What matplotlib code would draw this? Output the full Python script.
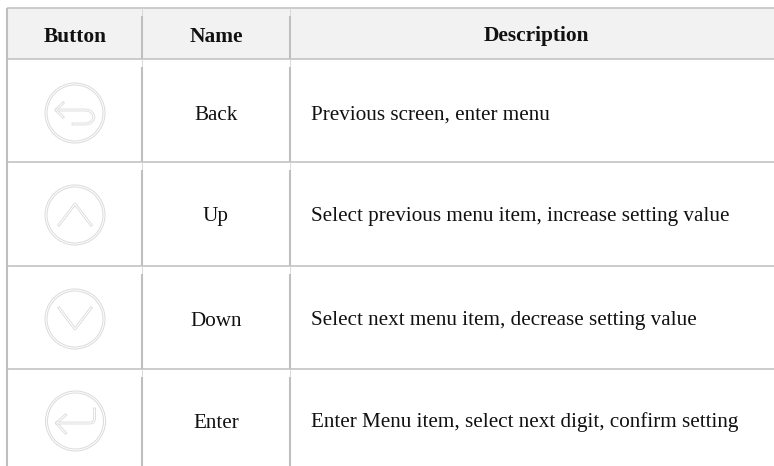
import numpy as np
import matplotlib
matplotlib.use('Agg')
import matplotlib.pyplot as plt
from matplotlib.patches import Circle, Rectangle

headers = ["Button", "Name", "Description"]
names = ["Back", "Up", "Down", "Enter"]
descriptions = [
    "Previous screen, enter menu",
    "Select previous menu item, increase setting value",
    "Select next menu item, decrease setting value",
    "Enter Menu item, select next digit, confirm setting",
]

# table layout, in pixels of the 774x466 picture
col_x = [7, 142, 290]
row_y = [8, 59, 162, 266, 369]
icon_centers = [(75, 113), (75, 215), (75, 319), (75.5, 421)]
head_x = [75, 216, 536]
head_base = 41.5
name_x = 216
desc_x = 311
grid_col = '#bfbfbf'
icon_col = '#dadada'
serif = 'Liberation Serif'

# icon glyphs as offsets from the circle centre
icon_paths = {
    "Back": [[(-12, -10), (-19, -3), (-12, 4)],
             [(-19, -3), (11, -3), (15, -2), (18, 1), (19, 4), (18, 7), (15, 10), (11, 11), (-2, 11)]],
    "Up": [[(-16, 10), (0, -11), (16, 10)]],
    "Down": [[(-16, -11), (0, 10), (16, -11)]],
    "Enter": [[(-10, -6), (-19, 2), (-10, 12)],
              [(-19, 2), (15, 2), (18, 1), (19, -2), (19, -12)]],
}

fig = plt.figure(figsize=(7.74, 4.66), dpi=100)
ax = fig.add_axes([0, 0, 1, 1])
ax.set_xlim(0, 774)
ax.set_ylim(466, 0)
ax.axis('off')

# header band
ax.add_patch(Rectangle((col_x[0], row_y[0]), 774 - col_x[0], row_y[1] - row_y[0],
                       facecolor='#f2f2f2', edgecolor='none', zorder=0))

# grid
for y in row_y:
    ax.plot([col_x[0], 774], [y, y], color=grid_col, lw=1.1, zorder=1, solid_capstyle='butt')
ax.plot([col_x[0], col_x[0]], [row_y[0], 466], color=grid_col, lw=1.5, zorder=1, solid_capstyle='butt')
# inner verticals are thin for the first few pixels of each row
ends = row_y[1:] + [466]
for x in col_x[1:]:
    for top, bottom in zip(row_y, ends):
        ax.plot([x, x], [top, top + 8], color='#d9d9d9', lw=0.7, zorder=1, solid_capstyle='butt')
        ax.plot([x, x], [top + 8, bottom], color=grid_col, lw=1.5, zorder=1, solid_capstyle='butt')

# section title above the table, only its bottom edge is in the crop
ax.text(20, 0.5, "Buttons", fontfamily=serif, fontweight='bold',
        fontsize=15, ha='left', va='baseline', color='#777777')

# header text
for x, h in zip(head_x, headers):
    ax.text(x, head_base, h, fontfamily=serif, fontweight='bold', fontsize=15.4,
            ha='center', va='baseline', color='#111111')

# rows
for i in range(len(names)):
    cx, cy = icon_centers[i]
    ax.text(name_x, cy + 6.5, names[i], fontfamily=serif, fontsize=15.2,
            ha='center', va='baseline', color='#111111')
    ax.text(desc_x, cy + 6.5, descriptions[i], fontfamily=serif, fontsize=15.2,
            ha='left', va='baseline', color='#111111')

    ax.add_patch(Circle((cx, cy), 30, fill=False, edgecolor=icon_col, lw=0.7))
    ax.add_patch(Circle((cx, cy), 28, fill=False, edgecolor=icon_col, lw=0.7))
    for path in icon_paths[names[i]]:
        pts = np.array(path)
        # double stroke: wide grey line with a white core
        ax.plot(cx + pts[:, 0], cy + pts[:, 1], color=icon_col, lw=2.0)
        ax.plot(cx + pts[:, 0], cy + pts[:, 1], color='white', lw=0.8)

fig.savefig('out.png', dpi=100)
